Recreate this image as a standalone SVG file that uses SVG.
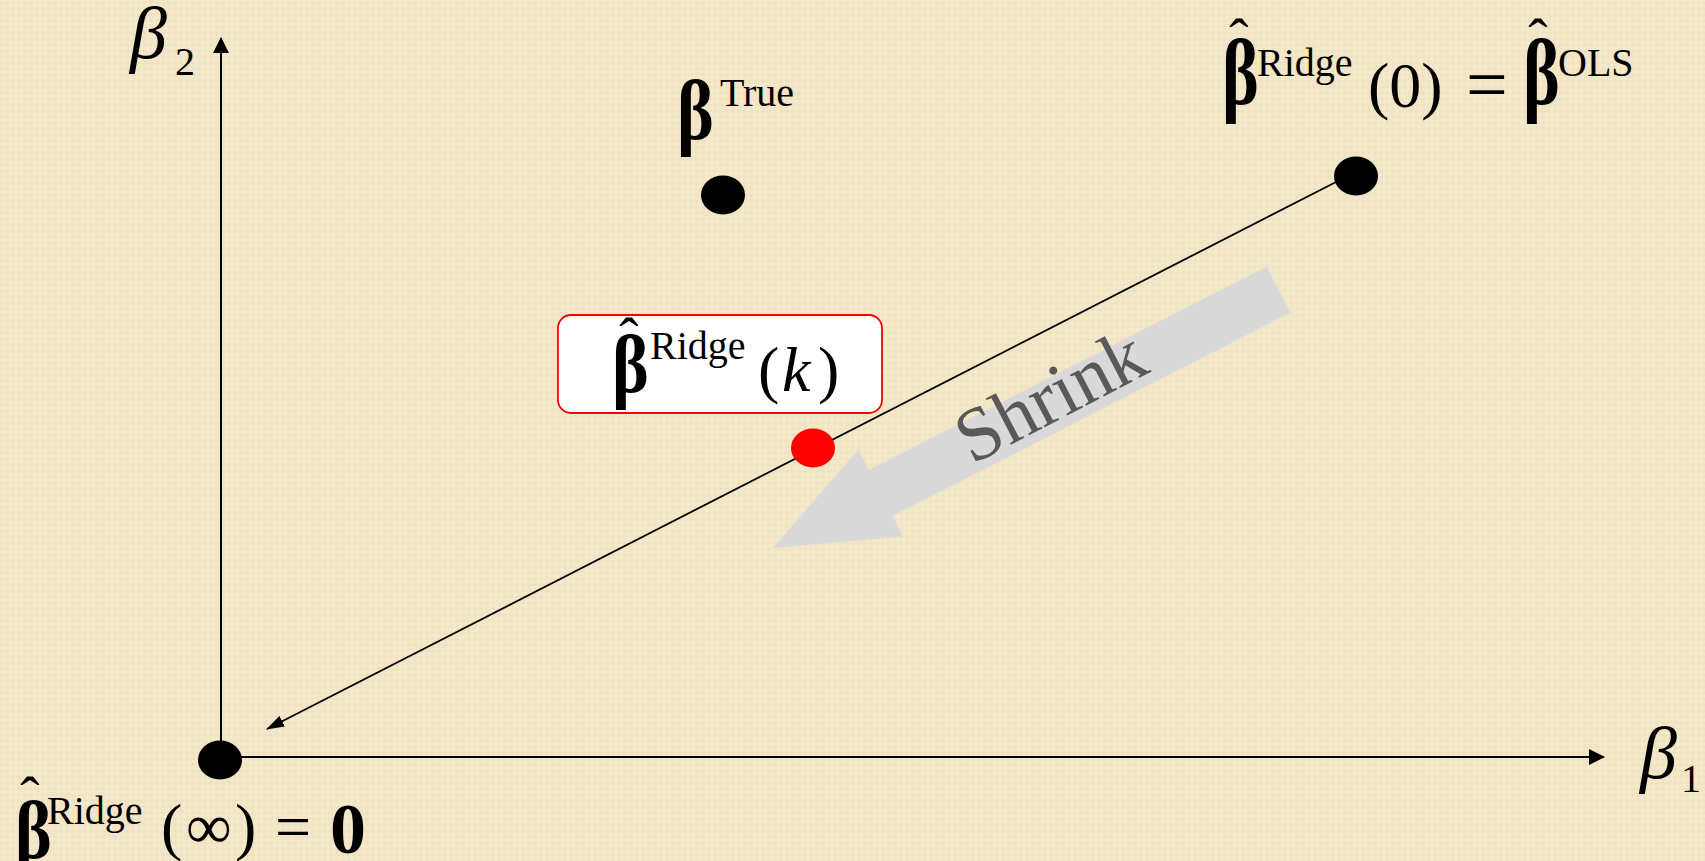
<svg xmlns="http://www.w3.org/2000/svg" width="1705" height="861" viewBox="0 0 1705 861">
  <style>
    .m { font-family: "Liberation Serif", "Times New Roman", serif; fill: #000; }
    .bb { font-weight: bold; font-size: 70px; }
    .r { font-size: 64px; }
    .i { font-style: italic; font-size: 64px; }
    .ia { font-style: italic; font-size: 74px; }
    .sup { font-size: 40px; }
    .hat { font-size: 58px; text-anchor: middle; }
    .ax { stroke: #000; stroke-width: 2; fill: none; }
    .dot { fill: #000; }
  </style>
  <defs>
    <marker id="ah" viewBox="0 0 16 16" refX="15" refY="8" markerWidth="16" markerHeight="16" markerUnits="userSpaceOnUse" orient="auto">
      <path d="M0,0 L16,8 L0,16 Z" fill="#000"/>
    </marker>
    <marker id="ah2" viewBox="0 0 18 12" refX="17" refY="6" markerWidth="18" markerHeight="12" markerUnits="userSpaceOnUse" orient="auto">
      <path d="M0,0 L18,6 L0,12 Z" fill="#000"/>
    </marker>
    <pattern id="tex" width="12" height="12" patternUnits="userSpaceOnUse">
      <rect width="12" height="12" fill="#f3e6c7"/>
      <path d="M0,3 H12 M0,9 H12" stroke="#eedfbb" stroke-width="1"/>
      <path d="M4,0 V12 M10,0 V12" stroke="#f6ecd4" stroke-width="1"/>
    </pattern>
  </defs>

  <rect id="background" width="1705" height="861" fill="url(#tex)"/>

  <g id="connectors">
    <line class="ax" x1="221" y1="760" x2="221" y2="38" marker-end="url(#ah)"/>
    <line class="ax" x1="220" y1="757" x2="1604" y2="757" marker-end="url(#ah)"/>
    <line x1="1338" y1="181" x2="267" y2="729" stroke="#000" stroke-width="1.8" marker-end="url(#ah2)"/>
  </g>

  <g id="shrink-arrow">
    <polygon points="1266.7,266.4 868.9,469.9 858.4,449.4 773,548 903,536.6 892.5,516.1 1290.3,312.6" fill="#d9d9d9"/>
    <text class="m" x="972" y="465" font-size="76" style="fill:#595959" transform="rotate(-27.5 972 465)">Shrink</text>
  </g>

  <g id="axis-label-b2">
    <text class="m ia" x="130" y="58">β</text>
    <text class="m sup" x="175" y="75">2</text>
  </g>
  <g id="axis-label-b1">
    <text class="m ia" x="1640" y="778">β</text>
    <text class="m sup" x="1681" y="792">1</text>
  </g>

  <g id="node-true">
    <ellipse class="dot" cx="723" cy="195" rx="22" ry="19.5"/>
    <text class="m bb" transform="translate(677 138.5) scale(1 1.2)">β</text>
    <text class="m sup" x="720" y="106">True</text>
  </g>

  <g id="node-ols">
    <ellipse class="dot" cx="1356" cy="176" rx="22" ry="19.5"/>
    <text class="m bb" transform="translate(1222 104) scale(1 1.32)">β</text>
    <text class="m hat" x="1239" y="58">ˆ</text>
    <text class="m sup" x="1257" y="76">Ridge</text>
    <text class="m r" x="1368" y="107">(0)</text>
    <text class="m" x="1466" y="109" font-size="74">=</text>
    <text class="m bb" transform="translate(1523 104) scale(1 1.32)">β</text>
    <text class="m hat" x="1538" y="58">ˆ</text>
    <text class="m sup" x="1558" y="76">OLS</text>
  </g>

  <g id="node-ridge-k">
    <ellipse cx="813" cy="448" rx="22" ry="19.5" fill="#ff0000"/>
    <rect x="558" y="315" width="324" height="98" rx="13" ry="13" fill="#ffffff" stroke="#ff0000" stroke-width="1.8"/>
    <text class="m bb" transform="translate(612 392) scale(1 1.18)">β</text>
    <text class="m hat" x="629" y="357">ˆ</text>
    <text class="m sup" x="650" y="359">Ridge</text>
    <text class="m r" x="758" y="391">(</text>
    <text class="m i" x="782" y="391">k</text>
    <text class="m r" x="818" y="391">)</text>
  </g>

  <g id="node-origin">
    <ellipse class="dot" cx="220" cy="760" rx="22" ry="19.5"/>
    <text class="m bb" transform="translate(15 858) scale(1 1.18)">β</text>
    <text class="m hat" x="30" y="816">ˆ</text>
    <text class="m sup" x="47" y="824">Ridge</text>
    <text class="m r" x="161" y="848">(</text>
    <text class="m r" x="186" y="848">∞</text>
    <text class="m r" x="235" y="848">)</text>
    <text class="m r" x="275" y="848">=</text>
    <text class="m bb" x="330" y="853" style="font-size:72px">0</text>
  </g>
</svg>
